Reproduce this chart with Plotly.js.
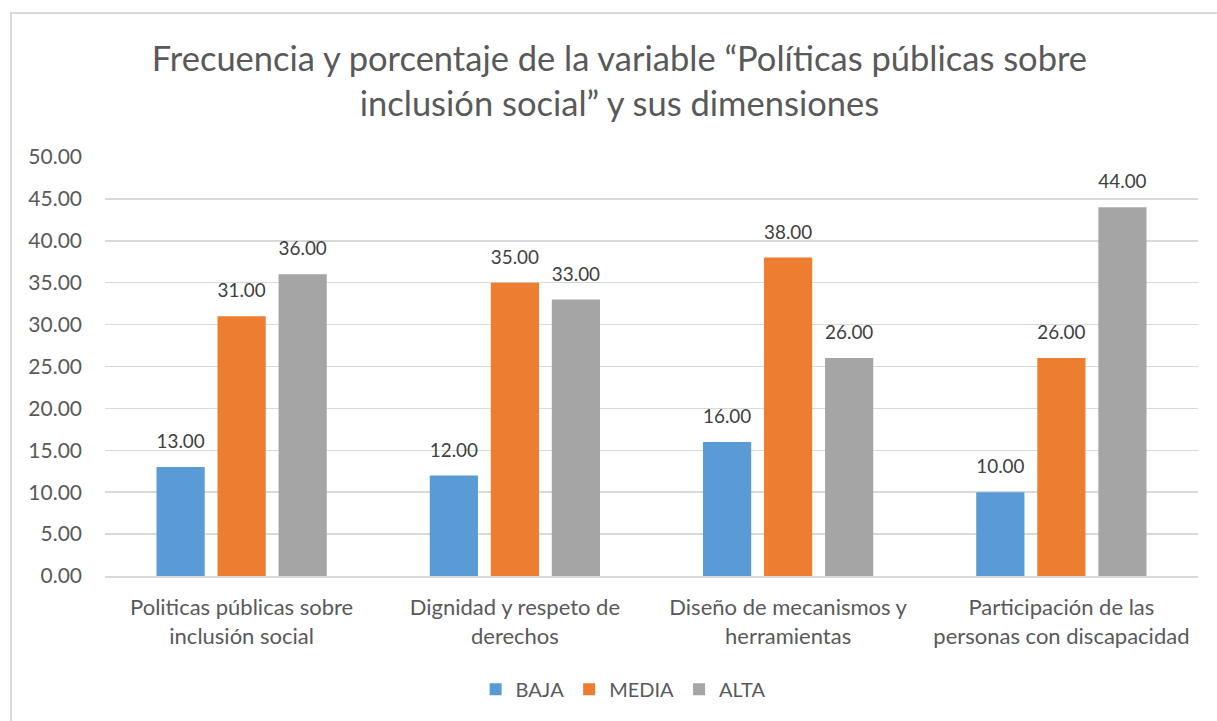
<!DOCTYPE html>
<html>
<head>
<meta charset="utf-8">
<script src="https://cdn.plot.ly/plotly-3.0.1.min.js"></script>
<style>
html,body{margin:0;padding:0;background:#fff;overflow:hidden;}
#frame{position:absolute;left:10px;top:12px;width:1240px;height:760px;border:2px solid #d9d9d9;}
#chart{position:absolute;left:0;top:0;width:1217px;height:721px;}
</style>
</head>
<body>
<div id="frame"></div>
<div id="chart"></div>
<script>
const categories = [
  "Politicas públicas sobre<br>inclusión social",
  "Dignidad y respeto de<br>derechos",
  "Diseño de mecanismos y<br>herramientas",
  "Participación de las<br>personas con discapacidad"
];
const seriesNames = ["BAJA", "MEDIA", "ALTA"];
const baja = [13, 12, 16, 10];
const media = [31, 35, 38, 26];
const alta = [36, 33, 26, 44];
const colors = ["#5B9BD5", "#ED7D31", "#A5A5A5"];
const yTicks = [0, 5, 10, 15, 20, 25, 30, 35, 40, 45, 50];

const FONT = "Lato, 'Open Sans', sans-serif";
const seriesValues = [baja, media, alta];
const traces = [];
seriesValues.forEach((vals, i) => {
  traces.push({
    type: "bar",
    name: seriesNames[i],
    x: categories,
    y: vals,
    offsetgroup: String(i),
    marker: {color: colors[i]},
    hoverinfo: "skip"
  });
});
// label carriers: transparent bars in the same offset group, lifted by a small base
seriesValues.forEach((vals, i) => {
  traces.push({
    type: "bar",
    name: seriesNames[i] + " labels",
    showlegend: false,
    x: categories,
    y: vals,
    base: 1.45,
    offsetgroup: String(i),
    marker: {color: "rgba(0,0,0,0)"},
    texttemplate: "%{y:.2f}",
    textposition: "outside",
    cliponaxis: false,
    textfont: {family: FONT, size: 20, color: "#404040"},
    hoverinfo: "skip"
  });
});

const layout = {
  width: 1217,
  height: 721,
  margin: {l: 105, r: 19, t: 157, b: 145},
  paper_bgcolor: "rgba(0,0,0,0)",
  plot_bgcolor: "rgba(0,0,0,0)",
  font: {family: FONT, color: "#595959"},
  title: {
    text: "Frecuencia y porcentaje de la variable “Políticas públicas sobre<br>inclusión social” y sus dimensiones",
    font: {family: FONT, size: 34.5, color: "#595959"},
    x: 0.509, xref: "container", xanchor: "center",
    y: 0.901, yref: "container", yanchor: "top"
  },
  barmode: "group",
  bargap: 0.33,
  bargroupgap: 0.21,
  xaxis: {
    type: "category",
    tickfont: {family: FONT, size: 22, color: "#595959"},
    showgrid: false,
    showline: true,
    linecolor: "#d9d9d9",
    linewidth: 1.5,
    ticks: "",
    ticklabelstandoff: 11
  },
  yaxis: {
    range: [0, 50],
    tickvals: yTicks,
    ticktext: yTicks.map(v => v.toFixed(2)),
    tickfont: {family: FONT, size: 21, color: "#595959"},
    gridcolor: "#d9d9d9",
    gridwidth: 1.5,
    zeroline: false,
    showline: false,
    ticks: "",
    ticklabelstandoff: 22
  },
  showlegend: true,
  legend: {
    orientation: "h",
    xref: "container", x: 0.512, xanchor: "center",
    yref: "container", y: 0.044, yanchor: "middle",
    font: {family: FONT, size: 20, color: "#595959"},
    itemwidth: 30,
    traceorder: "normal"
  }
};

Plotly.newPlot("chart", traces, layout, {staticPlot: true, displayModeBar: false});
</script>
</body>
</html>
